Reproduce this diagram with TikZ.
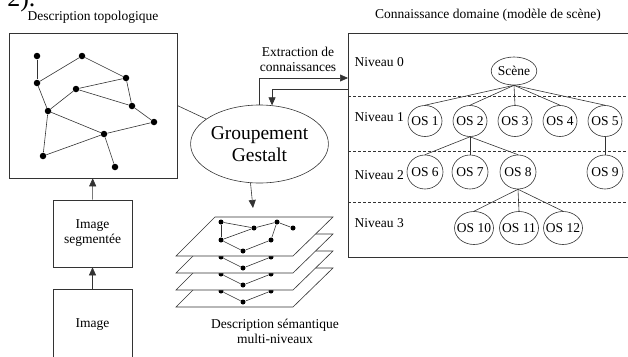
\documentclass[tikz,border=0pt]{standalone}
\usepackage{fontspec}
\setmainfont{Liberation Serif}
\usepackage{tikz}
\usetikzlibrary{shapes.geometric,arrows.meta}
\newcommand{\oslabel}[1]{\makebox[0pt]{OS #1}}
\tikzset{
	% Dots of the graphs, boxes, ellipses and arrows
	graph node/.style={circle,fill=black,inner sep=0,minimum size=6.5pt},
	stack node/.style={circle,fill=black,inner sep=0,minimum size=5pt},
	box node/.style={draw,inner sep=0,minimum width=79pt,align=center},
	os node/.style={ellipse,draw,inner sep=0,minimum width=34pt,minimum height=31pt},
	flow arrow/.style={-{Triangle[length=8pt,width=7pt]}}
}

\begin{document}
\begin{tikzpicture}[x=1pt,y=-1pt,font=\fontsize{13.5}{15}\selectfont,line width=0.6pt,draw=black!80]
	\useasboundingbox (0,0) rectangle (628,356);
	
	% cut-off heading of the page
	\node (head) [anchor=base west,inner sep=0,font=\fontsize{26}{28}\selectfont] at (7,6) {2).};
	
	% Left column: image, segmentation, topological graph
	\node (topo title) at (93,17) {Description topologique};
	\node (topo) [draw,minimum width=168pt,minimum height=145pt] at (93,105.5) {};
	\foreach \n/\x/\y in {a/37/56,b/82/56,c/37/83,d/126/78,e/76/89,f/132/106,
		g/48/111,h/154/122,i/104/134,j/43/156,k/115/167}
		\node (g-\n) [graph node] at (\x,\y) {};
	\foreach \s/\t in {a/c,c/b,b/d,d/e,e/f,d/f,c/g,g/e,f/h,g/i,h/i,g/j,j/i,i/k}
		\draw (g-\s) -- (g-\t);
	
	\node (seg) [box node,minimum height=67pt] at (92.5,233.5) {Image\\segmentée};
	\node (img) [box node,anchor=north,minimum height=70pt] at (92.5,289) {Image};
	\draw[flow arrow] (img) -- (seg);
	\draw[flow arrow] (seg) -- (topo);
	
	% Gestalt grouping
	\node (gestalt) [ellipse,draw,inner sep=0,minimum width=113pt,minimum height=78pt,
		align=center,font=\fontsize{19.5}{22}\selectfont] at (259.5,144) {Groupement\\Gestalt};
	\draw (topo.east) -- (gestalt);
	
	% Multi-level semantic description (stacked planes)
	\coordinate (stack top) at (253,208);
	\draw[flow arrow] (gestalt.257) -- (stack top);
	\foreach \k in {3,2,1}{
		\begin{scope}[shift={(0,17*\k)}]
			\draw[fill=white] (215,217) -- (333,217) -- (293,256) -- (176,256) -- cycle;
			\node (v\k-1) [stack node] at (221,240) {};
			\node (v\k-2) [stack node] at (243,251) {};
			\node (v\k-3) [stack node] at (271,240) {};
			\draw (v\k-1) -- (v\k-2) -- (v\k-3);
		\end{scope}
	}
	\draw[fill=white] (215,217) -- (333,217) -- (293,256) -- (176,256) -- cycle;
	\foreach \n/\x/\y in {1/221/222,2/254/228,3/277/222,4/293/228,5/221/240,6/243/251,7/271/240}
		\node (p\n) [stack node] at (\x,\y) {};
	\foreach \s/\t in {1/2,2/3,3/4,1/5,5/2,5/6,6/7,7/3}
		\draw (p\s) -- (p\t);
	\node (stack caption) [align=center] at (275,331) {Description sémantique\\multi-niveaux};
	
	% Domain knowledge (scene model)
	\node (domain title) at (488,15) {Connaissance domaine (modèle de scène)};
	\node (domain) [draw,anchor=north west,minimum width=300pt,minimum height=224pt] at (348,33) {};
	\foreach \y in {96,151,202}
		\draw[dash pattern=on 3pt off 2pt] (domain.west |- 0,\y) -- (628,\y);
	\foreach \l/\y in {0/62,1/117,2/175,3/223}
		\node (niv\l) [anchor=west] at (351,\y) {Niveau \l};
	
	\draw[flow arrow] (gestalt.north) |- (domain.west |- 0,78);
	\draw[flow arrow] (domain.west |- 0,89) -| (gestalt.72);
	\node (extract) [align=center] at (298,59.5) {Extraction de\\connaissances};
	
	\node (scene) [ellipse,draw,inner sep=0,minimum width=42pt,minimum height=28pt] at (514,71) {Scène};
	\foreach \i/\x in {1/425,2/470,3/515,4/560,5/605}{
		\node (os\i) [os node] at (\x,121) {\oslabel{\i}};
		\draw (scene.south) -- (os\i.north);
	}
	\foreach \i/\x in {6/425,7/470,8/518,9/605}
		\node (os\i) [os node,minimum width=36pt,minimum height=34pt] at (\x,172) {\oslabel{\i}};
	\foreach \i/\x in {10/474,11/519,12/563}
		\node (os\i) [os node,minimum width=39pt,minimum height=33pt] at (\x,228) {\oslabel{\i}};
	\foreach \t in {6,7,8}
		\draw (os2.south) -- (os\t.north);
	\draw (os5.south) -- (os9.north);
	\foreach \t in {10,11,12}
		\draw (os8.south) -- (os\t.north);
\end{tikzpicture}
\end{document}
